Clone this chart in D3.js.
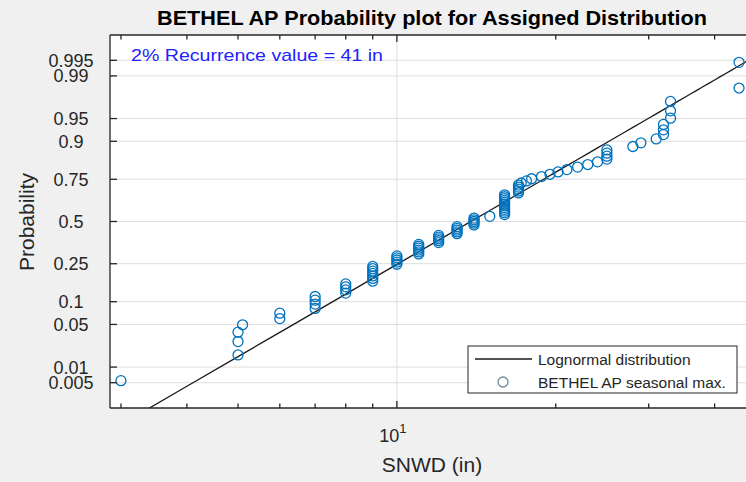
<!DOCTYPE html>
<html>
<head>
<meta charset="utf-8">
<script src="https://cdn.jsdelivr.net/npm/d3@7"></script>
<style>
  html, body { margin: 0; padding: 0; background: #f0f0f0; }
  svg { display: block; font-family: "Liberation Sans", Arial, Helvetica, sans-serif; }
</style>
</head>
<body>
<div id="chart"></div>
<script>
// BETHEL AP 季节最大积雪深度 (in)，从图上读出，已排序
const snowDepth = [
  3,
  5, 5, 5, 5.1,
  6, 6,
  7, 7, 7, 7,
  8, 8, 8, 8,
  9, 9, 9, 9, 9, 9, 9,
  10, 10, 10, 10, 10,
  11, 11, 11, 11, 11, 11,
  12, 12, 12, 12, 12,
  13, 13, 13, 13, 13,
  14, 14, 14, 14, 14,
  15,
  16, 16, 16, 16, 16, 16, 16, 16, 16, 16, 16, 16,
  17, 17, 17, 17, 17, 17.2, 17.6, 18, 18.8, 19.5, 20.2,
  21, 22, 23, 24,
  25, 25, 25, 25,
  28, 29, 31,
  32, 32, 32,
  33, 33, 33,
  44.5, 44.5
];

// 对数正态拟合参数 (ln 空间)
const fitMu = 2.625;
const fitSigma = 0.4704;

const probTicks = [0.005, 0.01, 0.05, 0.1, 0.25, 0.5, 0.75, 0.9, 0.95, 0.99, 0.995];
const probTickLabels = ["0.005", "0.01", "0.05", "0.1", "0.25", "0.5", "0.75", "0.9", "0.95", "0.99", "0.995"];
const xDomain = [2.86, 47.5];

const titleText = "BETHEL AP Probability plot for Assigned Distribution";
const noteText = "2% Recurrence value = 41 in";
const legendLabels = ["Lognormal distribution", "BETHEL AP seasonal max."];

// 标准正态分布的反函数 (Acklam)
function qnorm(p) {
  const a = [-3.969683028665376e+01, 2.209460984245205e+02, -2.759285104469687e+02, 1.383577518672690e+02, -3.066479806614716e+01, 2.506628277459239e+00];
  const b = [-5.447609879822406e+01, 1.615858368580409e+02, -1.556989798598866e+02, 6.680131188771972e+01, -1.328068155288572e+01];
  const c = [-7.784894002430293e-03, -3.223964580411365e-01, -2.400758277161838e+00, -2.549732539343734e+00, 4.374664141464968e+00, 2.938163982698783e+00];
  const d = [7.784695709041462e-03, 3.224671290700398e-01, 2.445134137142996e+00, 3.754408661907416e+00];
  const plow = 0.02425, phigh = 1 - plow;
  let q, r;
  if (p < plow) {
    q = Math.sqrt(-2 * Math.log(p));
    return (((((c[0]*q+c[1])*q+c[2])*q+c[3])*q+c[4])*q+c[5]) / ((((d[0]*q+d[1])*q+d[2])*q+d[3])*q+1);
  }
  if (p > phigh) {
    q = Math.sqrt(-2 * Math.log(1 - p));
    return -(((((c[0]*q+c[1])*q+c[2])*q+c[3])*q+c[4])*q+c[5]) / ((((d[0]*q+d[1])*q+d[2])*q+d[3])*q+1);
  }
  q = p - 0.5; r = q * q;
  return (((((a[0]*r+a[1])*r+a[2])*r+a[3])*r+a[4])*r+a[5])*q / (((((b[0]*r+b[1])*r+b[2])*r+b[3])*r+b[4])*r+1);
}

const W = 746, H = 482;
const plot = { left: 110, right: 754, top: 35, bottom: 408 };
const axisColor = "#262626";

const svg = d3.select("#chart").append("svg")
  .attr("width", W).attr("height", H)
  .attr("viewBox", `0 0 ${W} ${H}`);

svg.append("rect").attr("width", W).attr("height", H).attr("fill", "#f0f0f0");

const x = d3.scaleLog().domain(xDomain).range([plot.left, plot.right]);
const y = d3.scaleLinear().domain([-2.98, 2.98]).range([plot.bottom, plot.top]);
const yp = p => y(qnorm(p));

svg.append("defs").append("clipPath").attr("id", "clip")
  .append("rect")
  .attr("x", plot.left).attr("y", plot.top)
  .attr("width", plot.right - plot.left).attr("height", plot.bottom - plot.top);

// 绘图区
svg.append("rect")
  .attr("x", plot.left).attr("y", plot.top)
  .attr("width", plot.right - plot.left).attr("height", plot.bottom - plot.top)
  .attr("fill", "#ffffff");

// 网格
const grid = svg.append("g").attr("stroke", "#dedede").attr("stroke-width", 1);
grid.selectAll("line.h").data(probTicks).join("line")
  .attr("x1", plot.left).attr("x2", plot.right)
  .attr("y1", d => yp(d)).attr("y2", d => yp(d));
grid.append("line")
  .attr("x1", x(10)).attr("x2", x(10))
  .attr("y1", plot.top).attr("y2", plot.bottom);

// 拟合线
const lineXs = x.ticks(60).concat(xDomain).sort((a, b) => a - b);
svg.append("path")
  .attr("clip-path", "url(#clip)")
  .attr("d", d3.line()
    .x(d => x(d))
    .y(d => y((Math.log(d) - fitMu) / fitSigma))(lineXs))
  .attr("fill", "none").attr("stroke", "#1a1a1a").attr("stroke-width", 1.3);

// 数据点
const n = snowDepth.length;
svg.append("g").attr("clip-path", "url(#clip)")
  .selectAll("circle").data(snowDepth).join("circle")
  .attr("cx", d => x(d))
  .attr("cy", (d, i) => yp((i + 0.5) / n))
  .attr("r", 5)
  .attr("fill", "none")
  .attr("stroke", "#0072BD")
  .attr("stroke-width", 1.3);

// 坐标轴框与刻度
const axes = svg.append("g").attr("stroke", axisColor).attr("stroke-width", 1.3);
axes.append("line").attr("x1", plot.left).attr("x2", plot.right).attr("y1", plot.top).attr("y2", plot.top);
axes.append("line").attr("x1", plot.left).attr("x2", plot.right).attr("y1", plot.bottom).attr("y2", plot.bottom);
axes.append("line").attr("x1", plot.left).attr("x2", plot.left).attr("y1", plot.top).attr("y2", plot.bottom);

const xTicks = x.ticks();
axes.selectAll("line.xb").data(xTicks).join("line")
  .attr("x1", d => x(d)).attr("x2", d => x(d))
  .attr("y1", plot.bottom).attr("y2", d => plot.bottom - (d === 10 ? 7 : 4.5));
axes.selectAll("line.xt").data(xTicks).join("line")
  .attr("x1", d => x(d)).attr("x2", d => x(d))
  .attr("y1", plot.top).attr("y2", d => plot.top + (d === 10 ? 7 : 4.5));
axes.selectAll("line.yl").data(probTicks).join("line")
  .attr("x1", plot.left).attr("x2", plot.left + 7)
  .attr("y1", d => yp(d)).attr("y2", d => yp(d));

// Y 刻度标签
svg.append("g").selectAll("text").data(probTicks).join("text")
  .attr("x", 71).attr("y", d => yp(d)).attr("dy", "0.36em")
  .attr("text-anchor", "middle")
  .attr("font-size", 18).attr("fill", axisColor)
  .text((d, i) => probTickLabels[i]);

// X 刻度标签 10^1
const xl = svg.append("text").attr("fill", axisColor)
  .attr("x", x(10) - 4).attr("y", 442).attr("text-anchor", "middle").attr("font-size", 18);
xl.append("tspan").text("10");
xl.append("tspan").attr("dy", -9).attr("font-size", 13).text("1");

// 轴标题
svg.append("text")
  .attr("x", (plot.left + plot.right) / 2).attr("y", 472)
  .attr("text-anchor", "middle").attr("font-size", 21).attr("fill", axisColor)
  .text("SNWD (in)");
svg.append("text")
  .attr("transform", "translate(27,222) rotate(-90)")
  .attr("dy", "0.35em")
  .attr("text-anchor", "middle").attr("font-size", 21).attr("fill", axisColor)
  .text("Probability");

// 标题
svg.append("text")
  .attr("x", (plot.left + plot.right) / 2).attr("y", 25)
  .attr("text-anchor", "middle").attr("font-size", 21).attr("font-weight", "bold")
  .attr("fill", "#000000")
  .attr("textLength", 550).attr("lengthAdjust", "spacingAndGlyphs")
  .text(titleText);

// 重现值标注
svg.append("text")
  .attr("x", 131).attr("y", 61)
  .attr("font-size", 17).attr("fill", "#2222ff")
  .attr("textLength", 252).attr("lengthAdjust", "spacingAndGlyphs")
  .text(noteText);

// 图例
const lg = svg.append("g");
lg.append("rect")
  .attr("x", 468).attr("y", 346).attr("width", 269).attr("height", 47)
  .attr("fill", "#ffffff").attr("stroke", axisColor).attr("stroke-width", 1);
lg.append("line")
  .attr("x1", 475).attr("x2", 532).attr("y1", 359).attr("y2", 359)
  .attr("stroke", "#1a1a1a").attr("stroke-width", 1.3);
lg.append("circle")
  .attr("cx", 503).attr("cy", 382).attr("r", 5)
  .attr("fill", "none").attr("stroke", "#6f8c99").attr("stroke-width", 1.3);
lg.selectAll("text").data(legendLabels).join("text")
  .attr("x", 538).attr("y", (d, i) => 364.5 + i * 23)
  .attr("font-size", 15.5).attr("fill", axisColor)
  .text(d => d);
</script>
</body>
</html>
